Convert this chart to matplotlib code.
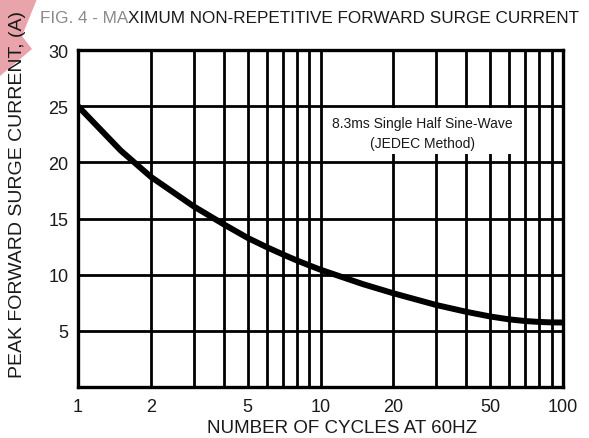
import matplotlib
matplotlib.use("Agg")
import matplotlib.pyplot as plt
from matplotlib.patches import Rectangle, Polygon
from matplotlib.ticker import FixedLocator, NullFormatter
import numpy as np

plt.rcParams['font.family'] = ['Liberation Sans', 'DejaVu Sans']

# Data
cycles = [1, 1.5, 2, 3, 4, 5, 6, 7, 8, 9, 10, 15, 20, 30, 40, 50, 60, 70, 80, 90, 100]
current = [25.0, 21.05, 18.7, 16.08, 14.47, 13.28, 12.45, 11.8, 11.26, 10.82, 10.44,
           9.15, 8.34, 7.3, 6.69, 6.28, 6.02, 5.87, 5.79, 5.75, 5.74]

x_major = [1, 2, 5, 10, 20, 50, 100]
x_major_labels = ["1", "2", "5", "10", "20", "50", "100"]
x_grid = [2, 3, 4, 5, 6, 7, 8, 9, 10, 20, 30, 40, 50, 60, 70, 80, 90]
y_ticks = [5, 10, 15, 20, 25, 30]
y_grid = [5, 10, 15, 20, 25]

title_a = "FIG. 4 - MA"
title_b = "XIMUM NON-REPETITIVE FORWARD SURGE CURRENT"
xlabel = "NUMBER OF CYCLES AT 60HZ"
ylabel = "PEAK FORWARD SURGE CURRENT, (A)"
note = "8.3ms Single Half Sine-Wave\n(JEDEC Method)"

TXT = '#1a1a1a'
W, H = 589, 439
fig = plt.figure(figsize=(W / 100, H / 100), dpi=100)
ax = fig.add_axes([78 / W, 1 - 388 / H, (563 - 78) / W, (388 - 51) / H])

# watermark shape (top-left)
wm = Polygon([(0, 1), (37 / W, 1), (22 / W, 1 - 37 / H), (32 / W, 1 - 50 / H), (0, 1 - 77 / H)],
             closed=True, transform=fig.transFigure, facecolor='#e9a3aa', edgecolor='none', zorder=0)
fig.patches.append(wm)

ax.set_xscale('log')
ax.set_xlim(1, 100)
ax.set_ylim(0, 30)

for xv in x_grid:
    ax.axvline(xv, color='black', lw=2.0, zorder=1)
for yv in y_grid:
    ax.axhline(yv, color='black', lw=2.0, zorder=1)

ax.add_patch(Rectangle((10.5, 20.75), 66 - 10.5, 24.8 - 20.75, facecolor='white',
                       edgecolor='none', zorder=2))
ax.text(np.sqrt(10.5 * 66), 22.62, note, ha='center', va='center', fontsize=10,
        linespacing=1.6, color=TXT, zorder=3)

ax.plot(cycles, current, color='black', lw=4.3, zorder=4, solid_capstyle='butt',
        solid_joinstyle='round')

ax.xaxis.set_major_locator(FixedLocator(x_major))
ax.set_xticklabels(x_major_labels)
ax.xaxis.set_minor_locator(FixedLocator([]))
ax.xaxis.set_minor_formatter(NullFormatter())
ax.set_yticks(y_ticks)
ax.tick_params(axis='both', length=0, labelsize=13, colors=TXT)
ax.tick_params(axis='y', pad=7)
ax.tick_params(axis='x', pad=8)

for s in ax.spines.values():
    s.set_linewidth(2.4)
    s.set_color('black')

fig.text(342 / W, 1 - 433 / H, xlabel, ha='center', va='baseline', fontsize=13.5, color=TXT)
fig.text(18 / W, 1 - 195 / H, ylabel, rotation=90, ha='center', va='center',
         fontsize=14, color=TXT)

t1 = fig.text(40 / W, 1 - 23 / H, title_a, ha='left', va='baseline', fontsize=12.3, color='#8a8a8a')
ax.annotate(title_b, xy=(1, 0), xycoords=t1, ha='left', va='bottom', fontsize=12.3,
            color=TXT, annotation_clip=False)

fig.savefig("out.png", dpi=100)
